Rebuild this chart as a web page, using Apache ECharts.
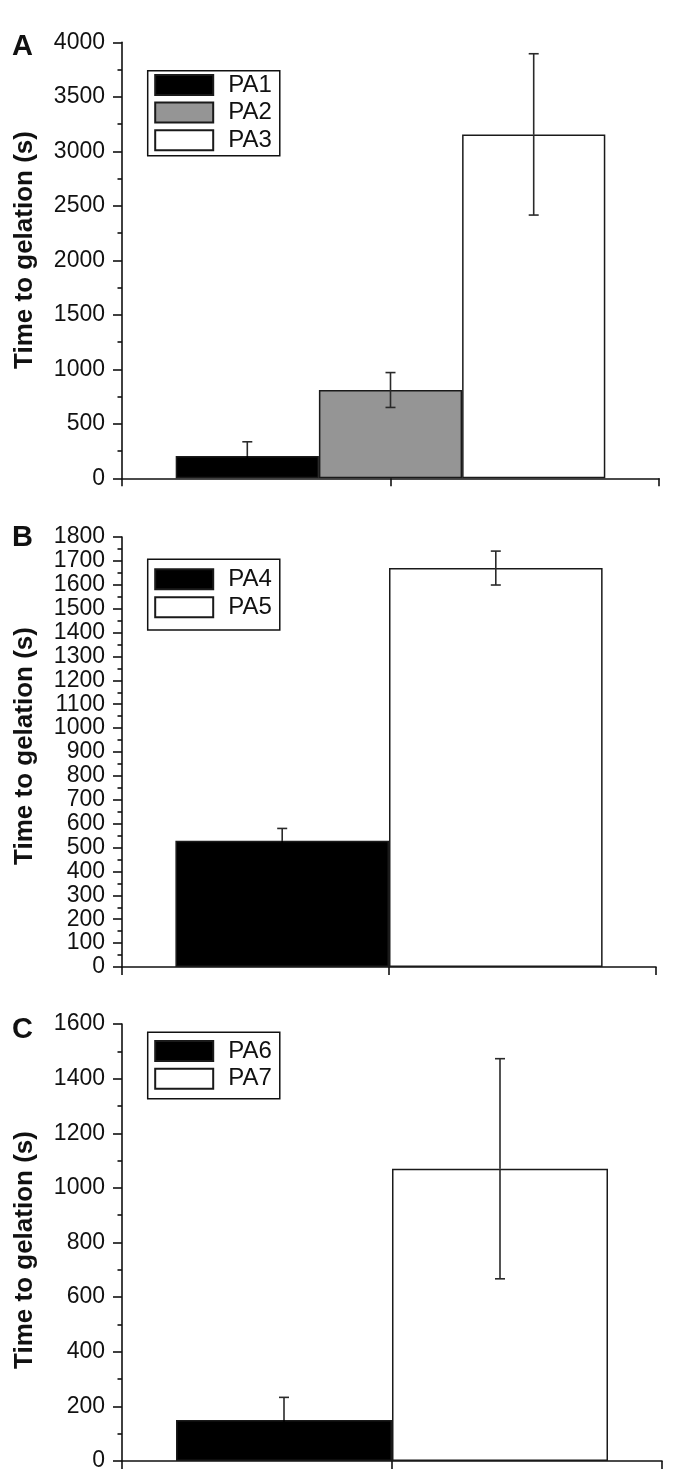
<!DOCTYPE html>
<html>
<head>
<meta charset="utf-8">
<script src="https://cdn.jsdelivr.net/npm/echarts@6/dist/echarts.min.js"></script>
<style>
html,body{margin:0;padding:0;background:#fff;}
#chart{width:681px;height:1482px;}
</style>
</head>
<body>
<div id="chart"></div>
<script>
// ---- data ----
const namesA = ['PA1', 'PA2', 'PA3'];
const valuesA = [205, 810, 3155];
const errorsA = [130, 160, 740];

const namesB = ['PA4', 'PA5'];
const valuesB = [528, 1670];
const errorsB = [52, 71];

const namesC = ['PA6', 'PA7'];
const valuesC = [150, 1070];
const errorsC = [83, 403];

const panelLetters = ['A', 'B', 'C'];
const yTitle = 'Time to gelation (s)';
const yMax = [4000, 1800, 1600];
const yInterval = [500, 100, 200];

// ---- styles / layout ----
const FONT = '"Liberation Sans", Arial, Helvetica, sans-serif';
const INK = '#111111';
const fills = {
  PA1: '#000000', PA2: '#959595', PA3: '#ffffff',
  PA4: '#000000', PA5: '#ffffff',
  PA6: '#000000', PA7: '#ffffff'
};
const panels = [
  {names: namesA, values: valuesA, errors: errorsA,
   grid: {left: 122, top: 42.3, width: 537, height: 436},
   legend: {left: 147.7, top: 70.7, padding: [2.3, 8, 3.6, 6.5], itemGap: 3.6},
   letterY: 46.7, titleY: 250},
  {names: namesB, values: valuesB, errors: errorsB,
   grid: {left: 122, top: 537, width: 534, height: 430},
   legend: {left: 147.7, top: 559.3, padding: [8, 8, 10.7, 6.5], itemGap: 4},
   letterY: 538.3, titleY: 746},
  {names: namesC, values: valuesC, errors: errorsC,
   grid: {left: 122, top: 1024, width: 540, height: 437},
   legend: {left: 147.7, top: 1032.3, padding: [6.7, 8, 8, 6.5], itemGap: 3.7},
   letterY: 1029.5, titleY: 1250}
];

const axisLineStyle = {color: INK, width: 1.6};

const option = {
  backgroundColor: '#ffffff',
  animation: false,
  grid: [], xAxis: [], yAxis: [], series: [], legend: [], graphic: []
};

panels.forEach((p, pi) => {
  option.grid.push(Object.assign({outerBoundsMode: 'none', containLabel: false}, p.grid));
  // category axis for bars (hidden)
  option.xAxis.push({
    type: 'category', gridIndex: pi, data: [''], boundaryGap: true,
    axisLine: {show: false}, axisTick: {show: false}, axisLabel: {show: false},
    splitLine: {show: false}
  });
  // value axis used only for the drawn baseline and its ticks
  option.xAxis.push({
    type: 'value', gridIndex: pi, min: 0, max: 2, interval: 1, position: 'bottom',
    axisLine: {show: true, onZero: false, lineStyle: axisLineStyle},
    axisTick: {show: true, inside: false, length: 8, lineStyle: axisLineStyle},
    axisLabel: {show: false}, splitLine: {show: false}
  });
  option.yAxis.push({
    type: 'value', gridIndex: pi, min: 0, max: yMax[pi], interval: yInterval[pi],
    axisLine: {show: true, lineStyle: axisLineStyle},
    axisTick: {show: true, inside: false, length: 9, lineStyle: axisLineStyle},
    minorTick: {show: true, splitNumber: 2, length: 4.5, lineStyle: axisLineStyle},
    minorSplitLine: {show: false},
    splitLine: {show: false},
    axisLabel: {fontFamily: FONT, fontSize: 23, color: INK, margin: 17,
      formatter: function (v) { return String(v); }}
  });

  const n = p.names.length;
  p.names.forEach((name, i) => {
    option.series.push({
      type: 'bar', name: name, xAxisIndex: 2 * pi, yAxisIndex: pi,
      data: [p.values[i]],
      barGap: '0%', barCategoryGap: '20%',
      itemStyle: {color: fills[name], borderColor: '#1a1a1a', borderWidth: 1.5},
      emphasis: {disabled: true}, silent: true
    });
  });

  option.series.push({
    type: 'custom', xAxisIndex: 2 * pi, yAxisIndex: pi, z: 10, silent: true,
    encode: {x: 0, y: 1},
    data: p.values.map((v, i) => [0, v, p.errors[i], i]),
    renderItem: function (params, api) {
      const idx = api.value(3), v = api.value(1), e = api.value(2);
      const band = api.size([1, 0])[0];
      const bw = band * 0.8 / n;
      const base = api.coord([0, v]);
      const cx = base[0] + (idx - (n - 1) / 2) * bw;
      const yTop = api.coord([0, v + e])[1];
      const yBot = api.coord([0, v - e])[1];
      const yBar = base[1];
      const cap = 5;
      const st = {stroke: '#2a2a2a', lineWidth: 1.6};
      const stIn = {stroke: fills[p.names[idx]] === '#000000' ? '#000000' : '#2a2a2a', lineWidth: 1.6};
      return {
        type: 'group',
        children: [
          {type: 'line', shape: {x1: cx, y1: yTop, x2: cx, y2: yBar}, style: st},
          {type: 'line', shape: {x1: cx, y1: yBar, x2: cx, y2: yBot}, style: stIn},
          {type: 'line', shape: {x1: cx - cap, y1: yTop, x2: cx + cap, y2: yTop}, style: st},
          {type: 'line', shape: {x1: cx - cap, y1: yBot, x2: cx + cap, y2: yBot}, style: stIn}
        ]
      };
    }
  });

  option.legend.push({
    orient: 'vertical', left: p.legend.left, top: p.legend.top,
    padding: p.legend.padding, itemGap: p.legend.itemGap,
    data: p.names, icon: 'rect', itemWidth: 58, itemHeight: 20,
    borderColor: INK, borderWidth: 1.5, backgroundColor: '#ffffff',
    selectedMode: false,
    textStyle: {fontFamily: FONT, fontSize: 24, color: INK, padding: [0, 0, 0, 10]}
  });

  option.graphic.push({
    type: 'text', x: 12, y: p.letterY, silent: true,
    style: {text: panelLetters[pi], fontFamily: FONT, fontSize: 29, fontWeight: 'bold',
      fill: INK, align: 'left', verticalAlign: 'middle'}
  });
  option.graphic.push({
    type: 'text', x: 25, y: p.titleY, rotation: Math.PI / 2, silent: true,
    style: {text: yTitle, fontFamily: FONT, fontSize: 26, fontWeight: 'bold',
      fill: INK, align: 'center', verticalAlign: 'middle'}
  });
});

const chart = echarts.init(document.getElementById('chart'), null, {renderer: 'canvas', width: 681, height: 1482});
chart.setOption(option);
</script>
</body>
</html>
